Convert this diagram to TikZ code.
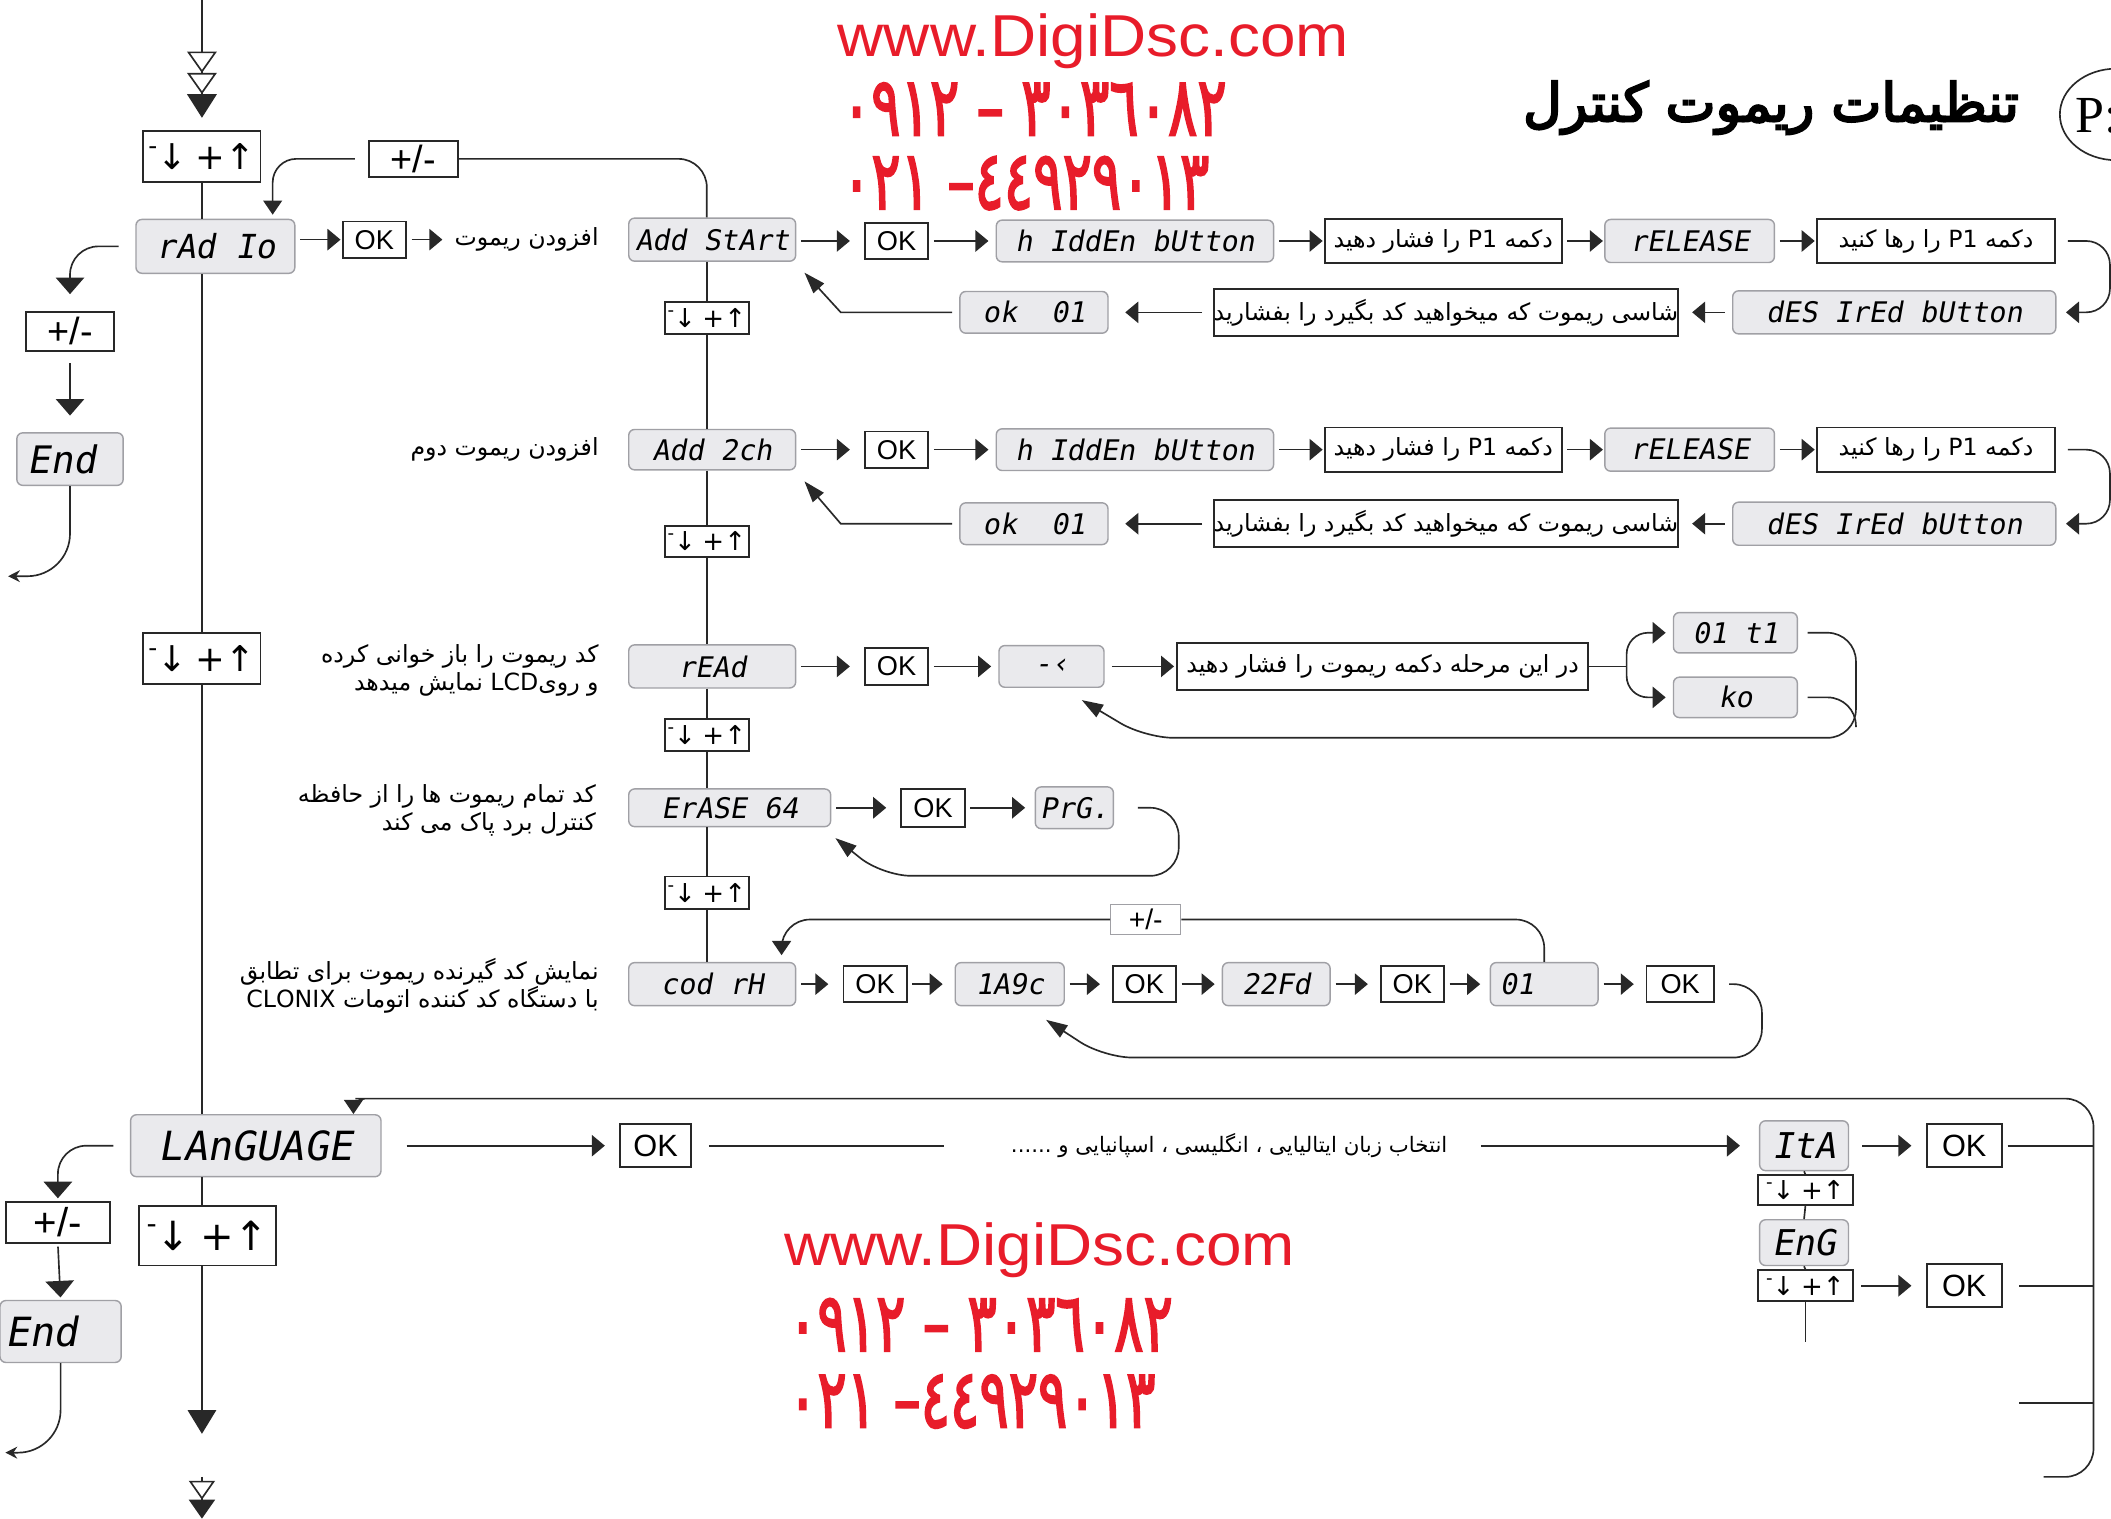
\documentclass[tikz,border=0pt]{standalone}
\usepackage{fontspec}
\usepackage{graphicx}
\usetikzlibrary{arrows.meta,shapes.geometric}
\TeXXeTstate=1
\setmainfont{Liberation Sans}
\newfontfamily\arfont[Script=Arabic]{DejaVu Sans}
\newfontfamily\arbold[Script=Arabic,FakeBold=4]{DejaVu Sans}
\newfontfamily\digfont[Script=Arabic,FakeBold=2,FakeStretch=0.66]{DejaVu Sans}
\newfontfamily\lcdfont[FakeSlant=0.18]{DejaVu Sans Mono}
\newfontfamily\symfont{DejaVu Sans}
\newfontfamily\webfont[FakeStretch=1.08]{Liberation Sans}
\newfontfamily\seriffont{Liberation Serif}
\definecolor{wred}{RGB}{232,28,42}
\definecolor{lcdfill}{RGB}{234,234,237}
\definecolor{lcdline}{RGB}{160,160,165}
\definecolor{ink}{RGB}{40,40,40}
\newcommand\fsz[1]{\fontsize{#1}{#1}\selectfont}
\newcommand\updn{{\symfont\raisebox{.42em}{\scalebox{.7}{-}}↓\hspace{.25em}+↑}}
\begin{document}
\begin{tikzpicture}[x=0.02cm,y=-0.02cm,
  bw/.style={minimum width=#1*0.02cm},
  bh/.style={minimum height=#1*0.02cm},
  lcd/.style={draw=lcdline, fill=lcdfill, rounded corners=2.5pt, line width=0.6pt, inner sep=0pt, font=\lcdfont\fsz{12}},
  okb/.style={draw=ink, line width=0.8pt, inner sep=0pt, font=\fsz{11.5}, fill=white},
  fab/.style={draw=ink, line width=0.8pt, inner sep=0pt, font=\arfont\fsz{10}},
  udb/.style={draw=ink, line width=0.8pt, inner sep=0pt, font=\fsz{11}, fill=white},
  ftxt/.style={inner sep=0pt, font=\arfont\fontsize{10}{12}\selectfont, align=right},
  conn/.style={draw=ink, line width=0.7pt},
  fa/.style={conn, -{Triangle[length=5.5pt,width=9pt]}, shorten <=2pt, shorten >=3pt},
  ba/.style={conn, -{Triangle[length=9pt,width=6pt]}},
  dn/.style={conn, -{Triangle[length=6pt,width=8pt]}},
  dnbig/.style={conn, -{Triangle[length=7pt,width=12pt]}},
  redtxt/.style={inner sep=0pt, text=wred},
]
\fill[white] (0,0) rectangle (1568,1128);
\useasboundingbox (0,0) rectangle (1568,1128);

% ---------- watermark / title ----------
\node[redtxt, anchor=base west, font=\webfont\fsz{25}] (web1) at (622,42) {www.DigiDsc.com};
\node[redtxt, anchor=west, font=\digfont\fsz{35}] (ph1) at (625,81) {\beginR ٣٠٣٦٠٨٢ – ٠٩١٢\endR};
\node[redtxt, anchor=west, font=\digfont\fsz{35}] (ph2) at (625,136) {\beginR ٤٤٩٢٩٠١٣\kern0pt–\kern0pt{} ٠٢١\endR};
\node[redtxt, anchor=base west, font=\webfont\fsz{25}] (web2) at (582,940) {www.DigiDsc.com};
\node[redtxt, anchor=west, font=\digfont\fsz{35}] (ph3) at (585,984) {\beginR ٣٠٣٦٠٨٢ – ٠٩١٢\endR};
\node[redtxt, anchor=west, font=\digfont\fsz{35}] (ph4) at (585,1041) {\beginR ٤٤٩٢٩٠١٣\kern0pt–\kern0pt{} ٠٢١\endR};
\node[inner sep=0pt, anchor=east, font=\arbold\fsz{22.5}] (title) at (1500,80) {\beginR تنظیمات ریموت کنترل\endR};
\node[ellipse, draw=ink, line width=0.7pt, bw=84, bh=68] (pcirc) at (1572,85) {};
\node[inner sep=0pt, anchor=west, font=\seriffont\fsz{22}] (ptxt) at (1541,86) {P:};

% ---------- coordinates ----------
\coordinate (top) at (150,0);
\coordinate (bot) at (150,1065);
\coordinate (bota) at (150,1097);
\coordinate (botb) at (150,1128);
\coordinate (exit1) at (6,428);
\coordinate (exit2) at (4,1079);
\coordinate (brx) at (1555,0);
\coordinate (brtop) at (1555,816);
\coordinate (brbot) at (1518,1097);
\coordinate (l3) at (1500,1042);
\coordinate (engend) at (1341,997);

% ---------- main column ----------
\node[udb,bw=87,bh=38,font=\fsz{15}] (ud1) at (150,116) {\updn};
\node[okb,bw=66,bh=27,font=\fsz{16}] (pm1) at (307,118) {+/-};
\node[lcd,bw=118,bh=40,font=\lcdfont\fsz{14}] (radio) at (160,183) {rAd Io};
\node[okb,bw=47,bh=27] (okR) at (278,178) {OK};
\node[ftxt,anchor=east] (tadd) at (445,178) {\beginR افزودن ریموت\endR};
\node[okb,bw=66,bh=29,font=\fsz{16}] (pmL1) at (52,246) {+/-};
\node[lcd,bw=79,bh=39,font=\lcdfont\fsz{16},text width=63*0.02cm,align=left] (end1) at (52,341) {End};
\node[udb,bw=87,bh=38,font=\fsz{15}] (ud2) at (150,489) {\updn};
\node[lcd,bw=186,bh=46,font=\lcdfont\fsz{17}] (lang) at (190,851) {LAnGUAGE};
\node[okb,bw=77,bh=31,font=\fsz{17}] (pmL2) at (43,908) {+/-};
\node[lcd,bw=90,bh=46,font=\lcdfont\fsz{17},text width=82*0.02cm,align=left] (end2) at (45,989) {End};
\node[udb,bw=102,bh=44,font=\fsz{17}] (ud3) at (154,918) {\updn};

% ---------- add column ----------
\node[lcd,bw=124,bh=32] (addstart) at (529,178) {Add StArt};
\node[udb,bw=62,bh=24] (ud4) at (525,236) {\updn};
\node[lcd,bw=124,bh=30] (add2ch) at (529,334) {Add 2ch};
\node[udb,bw=62,bh=23] (ud5) at (525,402) {\updn};
\node[lcd,bw=124,bh=32] (read) at (529,495) {rEAd};
\node[udb,bw=62,bh=24] (ud6) at (525,546) {\updn};
\node[lcd,bw=150,bh=28] (erase) at (542,600) {ErASE 64};
\node[udb,bw=62,bh=24] (ud7) at (525,663) {\updn};
\node[lcd,bw=124,bh=32] (codrh) at (529,731) {cod rH};

% ---------- row 1 ----------
\node[okb,bw=47,bh=27] (ok1) at (666,179) {OK};
\node[lcd,bw=206,bh=31] (hid1) at (843,179) {h IddEn bUtton};
\node[fab,bw=176,bh=33] (pa1) at (1072,179) {\beginR دکمه \beginL P1\endL{} را فشار دهید\endR};
\node[lcd,bw=126,bh=32] (rel1) at (1255,179) {rELEASE};
\node[fab,bw=177,bh=33] (pb1) at (1438,179) {\beginR دکمه \beginL P1\endL{} را رها کنید\endR};
\node[lcd,bw=240,bh=32] (des1) at (1407,232) {dES IrEd bUtton};
\node[fab,bw=342,bh=35] (sh1) at (1074,232) {\beginR شاسی ریموت که میخواهید کد بگیرد را بفشارید\endR};
\node[lcd,bw=110,bh=31] (oka1) at (768,232) {ok\ \ 01};

% ---------- row 2 ----------
\node[ftxt,anchor=east] (tadd2) at (445,334) {\beginR افزودن ریموت دوم\endR};
\node[okb,bw=47,bh=27] (ok2) at (666,334) {OK};
\node[lcd,bw=206,bh=31] (hid2) at (843,334) {h IddEn bUtton};
\node[fab,bw=176,bh=33] (pa2) at (1072,334) {\beginR دکمه \beginL P1\endL{} را فشار دهید\endR};
\node[lcd,bw=126,bh=32] (rel2) at (1255,334) {rELEASE};
\node[fab,bw=177,bh=33] (pb2) at (1438,334) {\beginR دکمه \beginL P1\endL{} را رها کنید\endR};
\node[lcd,bw=240,bh=32] (des2) at (1407,389) {dES IrEd bUtton};
\node[fab,bw=342,bh=35] (sh2) at (1074,389) {\beginR شاسی ریموت که میخواهید کد بگیرد را بفشارید\endR};
\node[lcd,bw=110,bh=31] (oka2) at (768,389) {ok\ \ 01};

% ---------- row 3 ----------
\node[ftxt,anchor=east] (tread) at (445,498) {\beginR کد ریموت را باز خوانی کرده\endR\\\beginR و روی\beginL LCD\endL{} نمایش میدهد\endR};
\node[okb,bw=47,bh=28] (ok3) at (666,495) {OK};
\node[lcd,bw=78,bh=31] (wait) at (781,495) {-‹};
\node[fab,bw=305,bh=35] (press) at (1027,495) {\beginR در این مرحله دکمه ریموت را فشار دهید\endR};
\node[lcd,bw=92,bh=30] (o1t1) at (1289,470) {01 t1};
\node[lcd,bw=92,bh=30] (ko) at (1289,518) {ko};

% ---------- row 4 ----------
\node[ftxt,anchor=east] (terase) at (443,602) {\beginR کد تمام ریموت ها را از حافظه\endR\\\beginR کنترل برد پاک می کند\endR};
\node[okb,bw=47,bh=28] (ok4) at (693,600) {OK};
\node[lcd,bw=58,bh=31] (prg) at (798,600) {PrG.};

% ---------- row 5 ----------
\node[ftxt,anchor=east] (tcod) at (445,732) {\beginR نمایش کد گیرنده ریموت برای تطابق\endR\\\beginR با دستگاه کد کننده اتومات \beginL CLONIX\endL\endR};
\node[okb,bw=47,bh=27] (ok5a) at (650,731) {OK};
\node[lcd,bw=81,bh=32] (c1) at (750,731) {1A9c};
\node[okb,bw=47,bh=27] (ok5b) at (850,731) {OK};
\node[lcd,bw=80,bh=32] (c2) at (948,731) {22Fd};
\node[okb,bw=47,bh=27] (ok5c) at (1049,731) {OK};
\node[lcd,bw=80,bh=32,text width=66*0.02cm,align=left] (c3) at (1147,731) {01};
\node[okb,bw=50,bh=27] (ok5d) at (1248,731) {OK};
\node[okb,bw=52,bh=22,draw=lcdline,line width=0.6pt,font=\fsz{12}] (pm5) at (851,683) {+/-};

% ---------- language ----------
\node[okb,bw=53,bh=32,font=\fsz{13}] (okL1) at (487,851) {OK};
\node[ftxt,font=\arfont\fsz{9}] (ltxt) at (913,851) {\beginR انتخاب زبان  ایتالیایی ، انگلیسی ، اسپانیایی و ......\endR};
\node[lcd,bw=66,bh=37,font=\lcdfont\fsz{15}] (ita) at (1340,851) {ItA};
\node[udb,bw=71,bh=22] (ud8) at (1341,884) {\updn};
\node[lcd,bw=66,bh=34,font=\lcdfont\fsz{15}] (eng) at (1340,923) {EnG};
\node[udb,bw=71,bh=23] (ud9) at (1341,955) {\updn};
\node[okb,bw=56,bh=32,font=\fsz{13}] (okL2) at (1459,851) {OK};
\node[okb,bw=56,bh=32,font=\fsz{13}] (okL3) at (1459,955) {OK};

% ================= connectors =================
% main line
\draw[conn, -{Triangle[fill=white,length=9pt,width=12.5pt] Triangle[fill=white,length=9pt,width=12.5pt] Triangle[length=10pt,width=12.5pt]}, shorten >=5pt] (top) -- (ud1.north);
\draw[conn] (ud1.south) -- (ud1.south |- radio.north);
\draw[conn] (radio.south -| ud1) -- (ud2.north);
\draw[conn] (ud2.south) -- (ud2.south |- lang.north);
\draw[conn] (lang.south -| ud2) -- (ud3.north -| ud2);
\draw[conn, -{Triangle[length=10pt,width=12pt]}] (ud3.south -| ud2) -- (bot);
\draw[conn, -{Triangle[fill=white,length=8pt,width=11pt] Triangle[length=8pt,width=11pt]}] (bota) -- (botb);

% +/- to rAd Io / Add StArt
\draw[conn, rounded corners=12pt] (pm1.east) -| (ud4.north |- addstart.north);
\draw[dn, rounded corners=10pt, shorten <=5.5pt] (pm1.west) -| ([shift={(-17,-3)}]radio.north east);
\draw[fa, shorten >=0.5pt] (radio.east |- okR) -- (okR);
\draw[fa, shorten >=5pt] (okR) -- (tadd);

% left branch 1
\draw[dnbig, rounded corners=12pt, shorten <=7pt, shorten >=7pt] (radio.west) -| (pmL1.north);
\draw[dnbig, shorten <=5pt, shorten >=7pt] (pmL1.south) -- (end1.north);
\draw[conn, -{Stealth[length=5pt,width=5pt]}, rounded corners=18pt] (end1.south) |- (exit1);

% add column vertical
\draw[conn] (addstart.south -| ud4) -- (ud4.north);
\draw[conn] (ud4.south) -- (ud4.south |- add2ch.north);
\draw[conn] (add2ch.south -| ud4) -- (ud5.north);
\draw[conn] (ud5.south) -- (ud5.south |- read.north);
\draw[conn] (read.south -| ud4) -- (ud6.north);
\draw[conn] (ud6.south) -- (ud6.south |- erase.north);
\draw[conn] (erase.south -| ud4) -- (ud7.north);
\draw[conn] (ud7.south) -- (ud7.south |- codrh.north);

% row 1
\draw[fa, shorten >=6pt] (addstart.east |- ok1) -- (ok1);
\draw[fa] (ok1) -- (hid1);
\draw[fa, shorten >=0.5pt] (hid1) -- (pa1);
\draw[fa, shorten >=0.5pt] (pa1) -- (rel1);
\draw[fa, shorten >=0.5pt] (rel1) -- (pb1);
\draw[fa, rounded corners=10pt, shorten <=5pt, shorten >=4pt] (pb1.east) -- ++(40,0) |- (des1.east);
\draw[fa, shorten <=3pt, shorten >=5.5pt] (des1) -- (sh1);
\draw[fa, shorten <=4.5pt, shorten >=7pt] (sh1) -- (oka1);
\draw[ba, shorten <=3pt] (oka1.west) -- ++(-88,0) -- ([shift={(6,8)}]addstart.south east);

% row 2
\draw[fa, shorten >=6pt] (add2ch) -- (ok2);
\draw[fa] (ok2) -- (hid2);
\draw[fa, shorten >=0.5pt] (hid2) -- (pa2);
\draw[fa, shorten >=0.5pt] (pa2) -- (rel2);
\draw[fa, shorten >=0.5pt] (rel2) -- (pb2);
\draw[fa, rounded corners=10pt, shorten <=5pt, shorten >=4pt] (pb2.east) -- ++(40,0) |- (des2.east);
\draw[fa, shorten <=3pt, shorten >=5.5pt] (des2) -- (sh2);
\draw[fa, shorten <=4.5pt, shorten >=7pt] (sh2) -- (oka2);
\draw[ba, shorten <=3pt] (oka2.west) -- ++(-88,0) -- ([shift={(6,8)}]add2ch.south east);

% row 3
\draw[fa, shorten >=6pt] (read) -- (ok3);
\draw[fa] (ok3) -- (wait);
\draw[fa, shorten <=3pt, shorten >=1pt] (wait) -- (press);
\draw[conn] (press.east) -- ++(28,0) coordinate (br);
\draw[fa, rounded corners=9pt, shorten <=0pt, shorten >=3pt] (br) |- (o1t1.west);
\draw[fa, rounded corners=9pt, shorten <=0pt, shorten >=3pt] (br) |- (ko.west);
\draw[ba, rounded corners=12pt, shorten <=4pt] (o1t1.east) -- ++(43,0) |- ([shift={(30,37)}]wait.south east) -- ([shift={(-17,9)}]wait.south east);
\draw[conn, rounded corners=12pt, shorten <=4pt] (ko.east) -- ++(43,0) -- ++(0,22);

% row 4
\draw[fa, shorten >=6pt] (erase) -- (ok4);
\draw[fa, shorten >=4pt] (ok4) -- (prg);
\draw[ba, rounded corners=12pt, shorten <=10pt] (prg.east) -- ++(48,0) |- ([shift={(38,36)}]erase.south east) -- ([shift={(3,8)}]erase.south east);

% row 5
\draw[fa, shorten >=6pt] (codrh) -- (ok5a);
\draw[fa, shorten >=5pt] (ok5a) -- (c1);
\draw[fa, shorten >=5pt] (c1) -- (ok5b);
\draw[fa, shorten >=3pt] (ok5b) -- (c2);
\draw[fa, shorten >=5pt] (c2) -- (ok5c);
\draw[fa, shorten >=4pt] (ok5c) -- (c3);
\draw[fa, shorten >=5pt] (c3) -- (ok5d);
\draw[ba, rounded corners=12pt, shorten <=6pt] (ok5d.east) -- ++(35,0) |- ([shift={(29,38)}]c1.south east) -- ([shift={(-14,10)}]c1.south east);
\draw[conn, rounded corners=12pt] (c3.north) |- (pm5.east);
\draw[dn, rounded corners=12pt] (pm5.west) -| ([shift={(-11,-5)}]codrh.north east);

% language
\draw[dn, rounded corners=12pt] (brbot) -| (brtop) -- (285,816) [rounded corners=5pt] -| ([shift={(-21,0)}]lang.north east);
\draw[fa, shorten <=10.5pt, shorten >=6pt] (lang) -- (okL1);
\draw[conn, shorten <=7pt, shorten >=28pt] (okL1) -- (ltxt);
\draw[fa, shorten <=14pt, shorten >=8pt] (ltxt) -- (ita);
\draw[fa, shorten <=5.5pt, shorten >=6pt] (ita) -- (okL2);
\draw[conn, shorten <=2pt] (okL2.east) -- (okL2.east -| brx);
\draw[conn] (ita.south) -- (ud8.north);
\draw[conn] (ud8.south) -- (eng.north);
\draw[conn] (eng.south) -- (ud9.north);
\draw[conn] (ud9.south) -- (engend);
\draw[fa, shorten <=3pt, shorten >=6pt] (ud9) -- (okL3);
\draw[conn, shorten <=7pt] (okL3.east) -- (okL3.east -| brx);
\draw[conn] (l3) -- (l3 -| brx);

% left branch 2
\draw[dnbig, rounded corners=12pt, shorten <=7pt, shorten >=1pt] (lang.west) -| (pmL2.north);
\draw[dnbig, shorten <=1pt, shorten >=1pt] (pmL2.south) -- (end2.north);
\draw[conn, -{Stealth[length=5pt,width=5pt]}, rounded corners=18pt] (end2.south) |- (exit2);
\end{tikzpicture}
\end{document}
